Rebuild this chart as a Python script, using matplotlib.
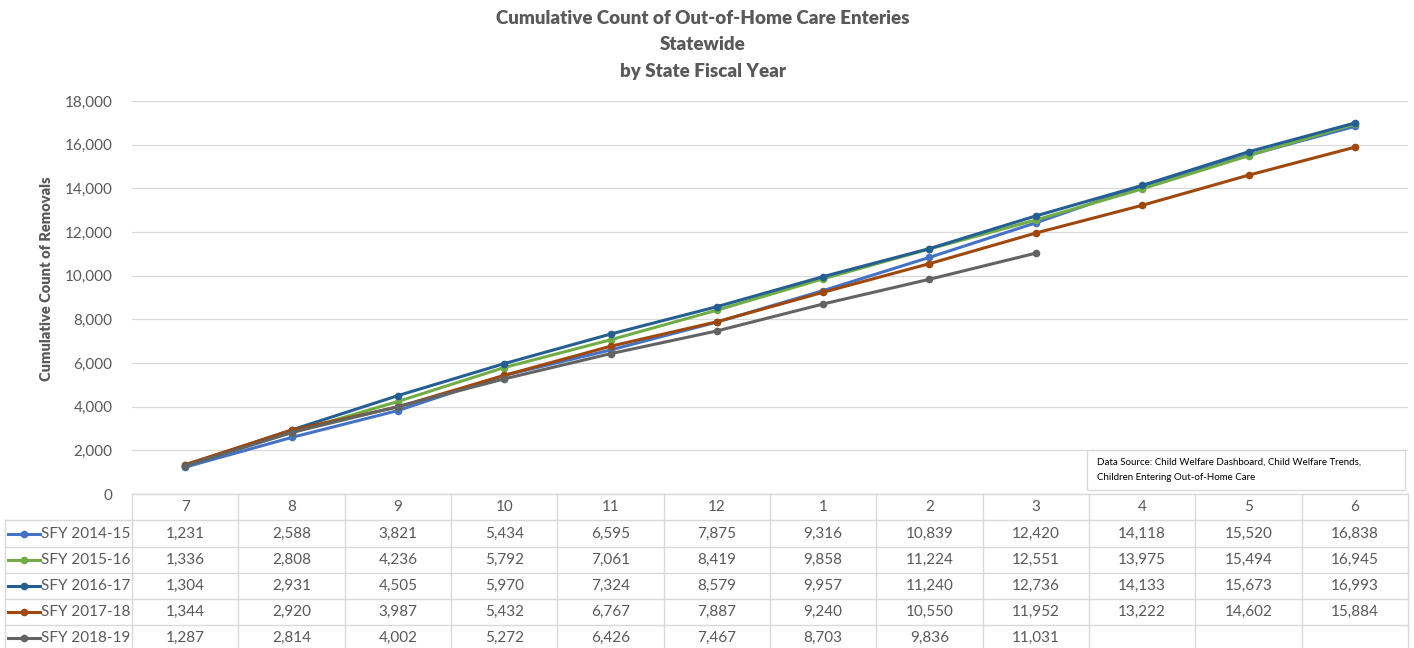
import matplotlib.pyplot as plt
from matplotlib.patches import Rectangle
from matplotlib.ticker import FuncFormatter

plt.rcParams['font.family'] = ['Lato', 'DejaVu Sans']

months = ['7', '8', '9', '10', '11', '12', '1', '2', '3', '4', '5', '6']
series_names = ['SFY 2014-15', 'SFY 2015-16', 'SFY 2016-17', 'SFY 2017-18', 'SFY 2018-19']
sfy_2014_15 = [1231, 2588, 3821, 5434, 6595, 7875, 9316, 10839, 12420, 14118, 15520, 16838]
sfy_2015_16 = [1336, 2808, 4236, 5792, 7061, 8419, 9858, 11224, 12551, 13975, 15494, 16945]
sfy_2016_17 = [1304, 2931, 4505, 5970, 7324, 8579, 9957, 11240, 12736, 14133, 15673, 16993]
sfy_2017_18 = [1344, 2920, 3987, 5432, 6767, 7887, 9240, 10550, 11952, 13222, 14602, 15884]
sfy_2018_19 = [1287, 2814, 4002, 5272, 6426, 7467, 8703, 9836, 11031]
all_series = [sfy_2014_15, sfy_2015_16, sfy_2016_17, sfy_2017_18, sfy_2018_19]
colors = ['#4472C4', '#70AD47', '#255E91', '#9E480E', '#636363']

W, H = 1414, 648
txt = '#595959'
grid = '#D9D9D9'

fig = plt.figure(figsize=(W / 100, H / 100), dpi=100)

# overlay in pixel coords for the data table and boxes
ov = fig.add_axes([0, 0, 1, 1])
ov.set_xlim(0, W)
ov.set_ylim(H, 0)
ov.axis('off')

left, right, top, bottom = 132, 1408, 101, 494
ax = fig.add_axes([left / W, 1 - bottom / H, (right - left) / W, (bottom - top) / H])
ax.set_xlim(-0.5, len(months) - 0.5)
ax.set_ylim(0, 18000)
ax.set_yticks(range(0, 18001, 2000))
ax.yaxis.set_major_formatter(FuncFormatter(lambda v, p: f'{int(v):,}'))
ax.set_xticks([])
ax.tick_params(axis='y', length=0, pad=14, labelsize=11, labelcolor=txt)
ax.grid(axis='y', color=grid, lw=0.9)
ax.set_axisbelow(True)
for s in ax.spines.values():
    s.set_visible(False)
ax.patch.set_alpha(0)

for vals, c, name in zip(all_series, colors, series_names):
    ax.plot(range(len(vals)), vals, color=c, lw=2.2, marker='o', ms=4.5, label=name)

ax.set_ylabel('Cumulative Count of Removals', fontsize=10.5, fontweight='heavy', color=txt)
ax.yaxis.set_label_coords((53 - left) / (right - left), (bottom - 279) / (bottom - top))

# title
for i, line in enumerate(['Cumulative Count of Out-of-Home Care Enteries', 'Statewide', 'by State Fiscal Year']):
    ov.text(703, 19 + i * 26, line, ha='center', va='center', fontsize=13.5,
            fontweight='heavy', color=txt)

# data table
col_w = (right - left) / len(months)
row_edges = [494, 520, 547, 573, 599, 625, 651]
ov.plot([left, right], [row_edges[0], row_edges[0]], color=grid, lw=1)
for y in row_edges[1:]:
    ov.plot([5, right], [y, y], color=grid, lw=1)
ov.plot([5, 5], [row_edges[1], H], color=grid, lw=1)
for i in range(len(months) + 1):
    x = left + i * col_w
    ov.plot([x, x], [row_edges[0], H], color=grid, lw=1)

for i, m in enumerate(months):
    ov.text(left + (i + 0.5) * col_w, (row_edges[0] + row_edges[1]) / 2, m,
            ha='center', va='center', fontsize=11, color=txt)

for r, (vals, c, name) in enumerate(zip(all_series, colors, series_names)):
    yc = (row_edges[r + 1] + row_edges[r + 2]) / 2
    ov.plot([8, 40], [yc, yc], color=c, lw=2.2)
    ov.plot([24], [yc], marker='o', ms=4.5, color=c)
    ov.text(41, yc, name, ha='left', va='center', fontsize=11, color=txt)
    for i, v in enumerate(vals):
        ov.text(left + (i + 0.5) * col_w, yc, f'{v:,}', ha='center', va='center',
                fontsize=11, color=txt)

# data source note
ov.add_patch(Rectangle((1087, 450), 318, 40, facecolor='white', edgecolor=grid, lw=1, zorder=5))
ov.text(1097, 462, 'Data Source: Child Welfare Dashboard, Child Welfare Trends,',
        ha='left', va='center', fontsize=7, color='black', zorder=6)
ov.text(1097, 477, 'Children Entering Out-of-Home Care',
        ha='left', va='center', fontsize=7, color='black', zorder=6)

fig.savefig('out.png', dpi=100)
